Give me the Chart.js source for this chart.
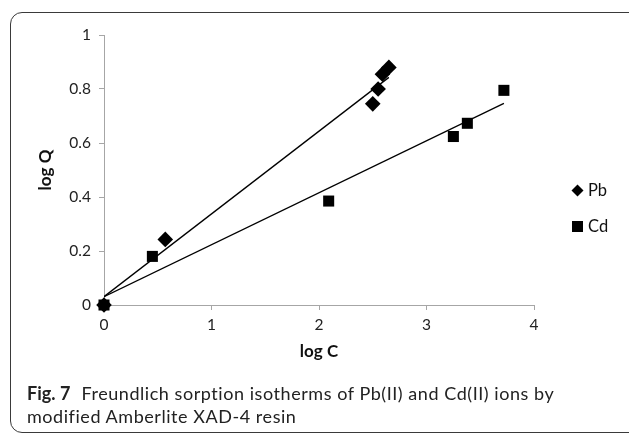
<!DOCTYPE html>
<html>
<head>
<meta charset="utf-8">
<script src="https://cdn.jsdelivr.net/npm/chart.js@4/dist/chart.umd.min.js"></script>
<style>
  body { margin: 0; background: #fff; }
  #wrap { position: relative; width: 629px; height: 433px; overflow: hidden; font-family: Lato, sans-serif; }
  #frame { position: absolute; left: 10px; top: 12px; width: 650px; height: 419px; border: 1px solid #3a3a3a; border-radius: 12px; }
  #chart { position: absolute; left: 0; top: 0; }
  #caption { position: absolute; left: 27px; top: 382px; font-size: 18px; letter-spacing: 0.55px; line-height: 23px; color: #222; }
  #caption b { font-weight: 700; margin-right: 6px; letter-spacing: 0; }
</style>
</head>
<body>
<div id="wrap">
  <div id="frame"></div>
  <canvas id="chart" width="629" height="433"></canvas>
  <div id="caption"><b>Fig. 7</b> Freundlich sorption isotherms of Pb(II) and Cd(II) ions by<br>modified Amberlite XAD-4 resin</div>
</div>
<script>
// log C / log Q readings for each metal
const pbLogC = [0, 0.57, 2.50, 2.55, 2.59, 2.65];
const pbLogQ = [0, 0.243, 0.745, 0.80, 0.855, 0.88];
const cdLogC = [0, 0.45, 2.09, 3.25, 3.38, 3.72];
const cdLogQ = [0, 0.18, 0.385, 0.624, 0.673, 0.795];

// linear trend lines, start and end
const pbFitC = [0, 2.65];
const pbFitQ = [0.031, 0.843];
const cdFitC = [0, 3.72];
const cdFitQ = [0.031, 0.747];

const seriesNames = ['Pb', 'Cd'];
const xRange = [0, 4];
const yRange = [0, 1];

function pairs(xs, ys) { return xs.map((x, i) => ({ x: x, y: ys[i] })); }

const axisGrey = '#a6a6a6';
const tickFont = { family: 'Lato', size: 15.5 };
const titleFont = { family: 'Lato', size: 17, weight: 'bold' };

// legend drawn by hand on the right, markers only
const sideLegend = {
    id: 'sideLegend',
    afterDraw(chart) {
        const ctx = chart.ctx;
        const items = [
            { text: seriesNames[0], shape: 'diamond', y: 190.5 },
            { text: seriesNames[1], shape: 'square', y: 226.5 }
        ];
        ctx.save();
        items.forEach(it => {
            const cx = 577.5;
            ctx.fillStyle = '#000';
            ctx.beginPath();
            if (it.shape == 'diamond') {
                ctx.moveTo(cx, it.y - 6); ctx.lineTo(cx + 6, it.y);
                ctx.lineTo(cx, it.y + 6); ctx.lineTo(cx - 6, it.y);
            } else {
                ctx.rect(cx - 5.5, it.y - 5.5, 11, 11);
            }
            ctx.closePath();
            ctx.fill();
            ctx.fillStyle = '#111';
            ctx.font = '16.5px Lato';
            ctx.textBaseline = 'middle';
            ctx.fillText(it.text, 588, it.y);
        });
        ctx.restore();
    }
};

const ctx = document.getElementById('chart').getContext('2d');
new Chart(ctx, {
    type: 'scatter',
    data: { datasets: [
        { label: seriesNames[0], data: pairs(pbLogC, pbLogQ), pointStyle: 'rectRot', pointRadius: 7.8,
          backgroundColor: '#000', borderColor: '#000', borderWidth: 0, clip: false, order: 1 },
        { label: seriesNames[1], data: pairs(cdLogC, cdLogQ), pointStyle: 'rect', pointRadius: 7.8,
          backgroundColor: '#000', borderColor: '#000', borderWidth: 0, clip: false, order: 1 },
        { type: 'line', label: 'Pb fit', data: pairs(pbFitC, pbFitQ), borderColor: '#000', borderWidth: 1.3,
          pointRadius: 0, fill: false, order: 2 },
        { type: 'line', label: 'Cd fit', data: pairs(cdFitC, cdFitQ), borderColor: '#000', borderWidth: 1.3,
          pointRadius: 0, fill: false, order: 2 }
    ]},
    options: {
        responsive: false, animation: false,
        layout: { padding: { left: 0, top: 35, right: 95, bottom: 68 } },
        plugins: { legend: { display: false }, tooltip: { enabled: false } },
        scales: {
            x: { type: 'linear', min: xRange[0], max: xRange[1],
                 ticks: { stepSize: 1, padding: 6, color: '#222', font: tickFont },
                 grid: { drawOnChartArea: false, tickLength: 5, color: axisGrey },
                 border: { color: axisGrey },
                 title: { display: true, text: 'log C', color: '#111', font: titleFont, padding: { top: 0, bottom: 3 } },
                 afterFit(s) { s.height = 60; } },
            y: { type: 'linear', min: yRange[0], max: yRange[1],
                 ticks: { stepSize: 0.2, padding: 8, color: '#222', font: tickFont,
                          callback: v => String(Math.round(v * 10) / 10) },
                 grid: { drawOnChartArea: false, tickLength: 5, color: axisGrey },
                 border: { color: axisGrey },
                 title: { display: true, text: 'log Q', color: '#111', font: titleFont, padding: { top: 35, bottom: 0 } },
                 afterFit(s) { s.width = 104; } }
        }
    },
    plugins: [sideLegend]
});
</script>
</body>
</html>
